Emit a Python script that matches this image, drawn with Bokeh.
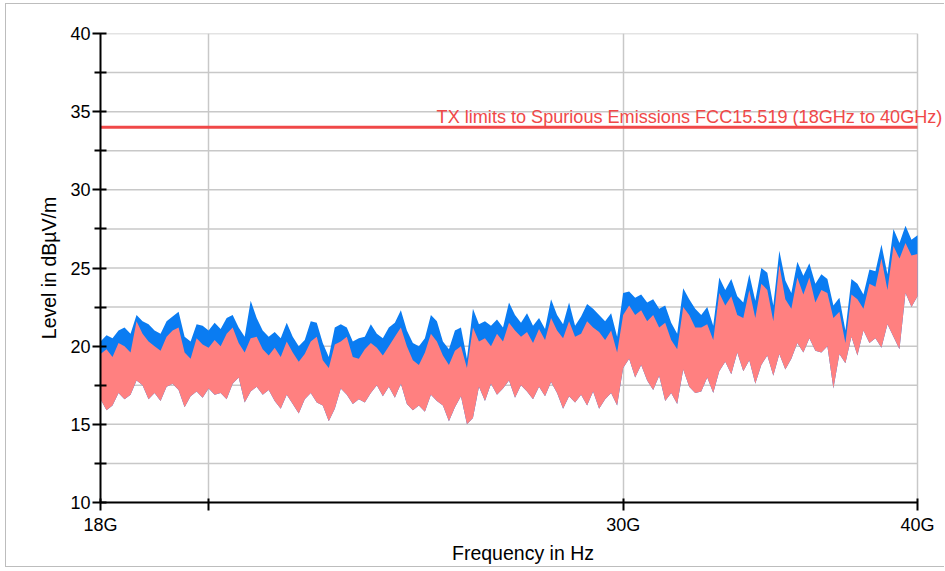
import numpy as np
from bokeh.plotting import figure
from bokeh.models import FixedTicker, CustomJSTickFormatter, Label
from bokeh.embed import file_html
from bokeh.resources import INLINE

# Peak envelope of the blue trace (dBµV/m), one value per sweep point
blue_peak = [
    20.3, 20.7, 20.5, 21.0, 21.2, 20.8, 22.0, 21.6, 21.4, 21.0, 20.8, 21.6, 21.9, 22.2, 20.6, 20.3, 21.4, 21.3, 21.0, 21.5,
    21.1, 21.8, 22.0, 21.2, 20.6, 22.9, 21.8, 21.0, 20.6, 20.9, 20.5, 21.5, 20.6, 20.0, 20.4, 21.6, 21.5, 20.2, 19.3, 21.2,
    21.4, 21.2, 20.3, 20.5, 20.6, 21.4, 20.8, 20.5, 21.2, 21.5, 22.3, 21.0, 20.2, 20.0, 20.5, 22.0, 21.6, 20.3, 19.8, 21.0,
    21.2, 19.2, 22.4, 21.4, 21.6, 21.3, 21.7, 21.2, 22.8, 22.0, 21.5, 22.1, 21.3, 21.8, 21.1, 23.0, 22.0, 21.4, 22.8, 21.3,
    21.9, 22.7, 22.4, 22.0, 21.6, 22.1, 20.6, 23.4, 23.5, 23.1, 23.3, 22.8, 23.0, 22.4, 22.6, 21.5, 20.8, 23.7, 23.0, 22.4,
    22.0, 22.5, 21.3, 24.4, 23.6, 24.3, 23.2, 22.8, 24.6, 22.9, 25.0, 24.7, 22.6, 26.1, 24.2, 23.4, 25.4, 24.5, 25.3, 24.0,
    24.6, 24.3, 22.6, 23.1, 21.0, 24.3, 24.0, 23.3, 24.9, 24.8, 26.5, 24.6, 27.5, 26.6, 27.7, 26.8, 27.1,
]

# Peak envelope of the red trace
red_peak = [
    19.5, 19.8, 19.3, 20.2, 20.0, 19.6, 21.6, 20.8, 20.3, 20.0, 19.7, 20.6, 21.0, 21.2, 19.6, 19.2, 20.5, 20.1, 19.9, 20.4,
    20.0, 20.8, 21.2, 20.2, 19.6, 20.5, 20.6, 19.8, 19.4, 19.9, 19.3, 20.3, 19.6, 19.0, 19.5, 20.3, 20.6, 19.1, 18.6, 20.1,
    20.3, 20.6, 19.3, 19.2, 19.8, 20.2, 19.9, 19.4, 20.0, 20.6, 21.2, 20.0, 19.1, 18.8, 19.6, 20.8, 20.3, 19.4, 18.8, 19.7,
    20.0, 18.6, 21.2, 20.3, 20.5, 20.0, 20.8, 20.3, 21.5, 21.0, 20.6, 20.9, 20.2, 21.1, 20.4, 21.8, 21.0, 20.5, 21.6, 20.6,
    20.8, 21.6, 21.2, 20.9, 20.4, 21.0, 19.6, 22.0, 22.6, 22.0, 22.3, 21.6, 22.0, 21.2, 21.5, 20.4, 19.8, 22.5, 22.0, 21.2,
    21.2, 21.4, 20.4, 23.4, 22.6, 23.2, 22.0, 21.8, 23.6, 21.8, 24.0, 23.6, 21.6, 25.2, 23.0, 22.4, 24.4, 23.3, 24.4, 22.8,
    23.6, 23.4, 21.8, 22.2, 20.2, 23.3, 23.0, 22.4, 24.0, 23.8, 25.6, 23.6, 26.4, 25.6, 26.6, 25.8, 25.9,
]

# Floor of the red trace
red_floor = [
    16.6, 15.9, 16.2, 17.0, 16.6, 16.9, 17.8, 17.5, 16.6, 17.0, 16.5, 17.4, 17.6, 17.2, 16.1, 16.8, 17.1, 16.7, 17.3, 16.9,
    17.0, 16.6, 17.6, 18.0, 16.4, 17.1, 17.4, 16.9, 17.2, 16.5, 16.0, 16.9, 16.3, 15.7, 16.6, 17.0, 16.4, 16.2, 15.2, 16.0,
    17.3, 16.9, 16.3, 16.6, 16.4, 17.0, 17.5, 16.8, 17.4, 16.7, 17.6, 16.3, 15.9, 16.2, 15.8, 16.9, 16.5, 16.2, 15.2, 16.1,
    16.8, 15.0, 15.4, 17.4, 16.5, 17.6, 16.9, 17.3, 17.8, 16.7, 17.5, 17.1, 16.6, 17.4, 16.8, 17.7, 17.0, 16.0, 16.8, 16.4,
    16.9, 16.2, 17.1, 16.0, 16.6, 17.0, 16.2, 18.6, 19.2, 18.0, 18.8, 17.8, 17.2, 18.1, 16.5, 17.0, 16.3, 18.5, 17.4, 17.0,
    17.1, 18.0, 17.0, 18.4, 19.0, 18.2, 19.6, 18.4, 19.1, 17.6, 18.8, 19.4, 18.1, 19.5, 18.5, 19.2, 20.2, 19.6, 20.5, 19.7,
    19.6, 20.0, 17.3, 19.5, 18.9, 20.6, 19.4, 21.0, 20.2, 20.5, 19.9, 21.4, 20.6, 19.8, 23.4, 22.5, 23.2,
]

limit_freq = [18e9, 40e9]
limit_level = [34.0, 34.0]
limit_text = "TX limits to Spurious Emissions FCC15.519 (18GHz to 40GHz)"

freq_ticks = [18e9, 20e9, 30e9, 40e9]
level_ticks = [10, 15, 20, 25, 30, 35, 40]
level_minor = [12.5, 17.5, 22.5, 27.5, 32.5, 37.5]

F_START, F_STOP = 18e9, 40e9
freq = np.geomspace(F_START, F_STOP, len(blue_peak))

# The frame runs on past 40 GHz so the limit caption can spill to the right;
# the axis itself is bounded to the sweep.
AXIS_PX, FRAME_PX = 817, 845
X_END = F_START * (F_STOP / F_START) ** (FRAME_PX / AXIS_PX)

FONT = "Liberation Sans"
GRID = "#c8c8c8"
BLUE = "#0a7cf2"
PINK = "#ff8080"
LIMIT = "#f04848"

p = figure(
    width=939, height=564,
    x_axis_type="log", x_range=(F_START, X_END), y_range=(10, 40),
    output_backend="svg", toolbar_location=None,
    min_border_left=94, min_border_right=0, min_border_top=29, min_border_bottom=66,
    x_axis_label="Frequency in Hz", y_axis_label="Level in dBµV/m",
)
p.styles = {
    "margin-left": "5px", "margin-top": "3px",
    "border-left": "1px solid #bdbdbd", "border-top": "1px solid #bdbdbd",
    "border-bottom": "1px solid #bdbdbd",
}
p.outline_line_color = None
p.background_fill_color = "white"
p.border_fill_color = "white"

# horizontal grid, limited to the sweep span
grid_levels = sorted(level_ticks + level_minor)
p.segment(x0=[F_START] * len(grid_levels), x1=[F_STOP] * len(grid_levels),
          y0=grid_levels, y1=grid_levels, line_color=GRID, line_width=1.5)
p.ygrid.visible = False

# traces: blue drawn first, red on top
p.varea(x=freq, y1=red_floor, y2=blue_peak, fill_color=BLUE)
p.varea(x=freq, y1=red_floor, y2=red_peak, fill_color=PINK)

# limit line and its caption
p.line(limit_freq, limit_level, line_color=LIMIT, line_width=3)
p.add_layout(Label(
    x=25e9, y=limit_level[0], text=limit_text, text_color=LIMIT,
    text_font=FONT, text_font_size="18.1px", text_baseline="alphabetic", y_offset=10,
))

# x axis
xt = FixedTicker(ticks=freq_ticks)
p.xaxis.ticker = xt
p.xgrid.ticker = xt
p.xaxis.bounds = (F_START, F_STOP)
p.xaxis.formatter = CustomJSTickFormatter(
    code="const g = Math.round(tick / 1e9); return g == 20 ? '' : g + 'G';"
)
p.xaxis.major_tick_in = 4
p.xaxis.major_tick_out = 8
p.xaxis.minor_tick_line_color = None

# y axis
yt = FixedTicker(ticks=level_ticks, minor_ticks=level_minor)
p.yaxis.ticker = yt
p.yaxis.major_tick_in = 6
p.yaxis.major_tick_out = 8
p.yaxis.minor_tick_in = 6
p.yaxis.minor_tick_out = 6
p.yaxis.minor_tick_line_color = "black"
p.yaxis.minor_tick_line_width = 2

for ax in (p.xaxis, p.yaxis):
    ax.axis_line_color = "black"
    ax.axis_line_width = 2
    ax.major_tick_line_color = "black"
    ax.major_tick_line_width = 2
    ax.major_label_text_font = FONT
    ax.major_label_text_font_size = "18px"
    ax.major_label_text_color = "black"
    ax.axis_label_text_font = FONT
    ax.axis_label_text_font_size = "19.5px"
    ax.axis_label_text_font_style = "normal"
    ax.axis_label_text_color = "black"

p.xaxis.major_label_standoff = 4
p.xaxis.axis_label_standoff = 4
p.yaxis.major_label_standoff = 2
p.yaxis.axis_label_standoff = 7

p.xgrid.grid_line_color = GRID
p.xgrid.grid_line_width = 1.5

open("out.html", "w").write(file_html(p, INLINE))
